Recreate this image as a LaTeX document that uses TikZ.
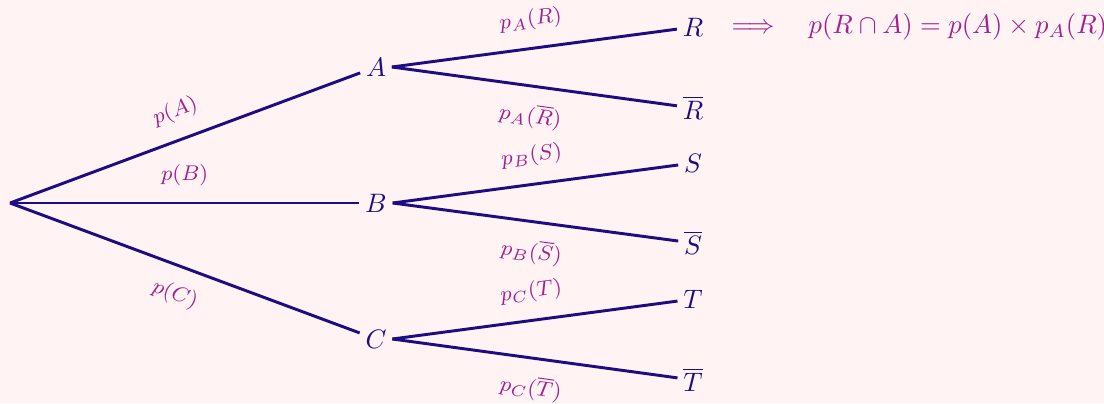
\documentclass[tikz,border=0pt]{standalone}
\usepackage{amsmath}
\usetikzlibrary{positioning}
\definecolor{TreeBg}{HTML}{FFF3F3}
\definecolor{TreeInk}{HTML}{1C0E82}
\definecolor{TreeProb}{HTML}{A0208E}
\tikzset{
  event/.style={text=TreeInk,inner sep=2pt},
  branch/.style={TreeInk,line width=1.1pt},
  prob/.style={text=TreeProb,font=\footnotesize,inner sep=1pt,sloped,midway},
  rule/.style={text=TreeProb,inner sep=0pt},
}

\begin{document}
\begin{tikzpicture}[x=.375pt,y=-.375pt]
    \fill[TreeBg] (0,0) rectangle (1104,403);
    \useasboundingbox (0,0) rectangle (1104,403);

    % first level
    \coordinate (root) at (10,203);
    \node[event] (A) at (376,67) {$A$};
    \node[event] (B) at (376,203) {$B$};
    \node[event] (C) at (376,339) {$C$};

    % second level
    \node[event] (R) at (693,27) {$R$};
    \node[event] (Rb) at (693,108) {$\overline{R}$};
    \node[event] (S) at (693,163) {$S$};
    \node[event] (Sb) at (693,243) {$\overline{S}$};
    \node[event] (T) at (693,299) {$T$};
    \node[event] (Tb) at (693,380) {$\overline{T}$};

    \draw[branch] (root) -- (A) node[prob,above=5pt] {$p(A)$};
    \draw[branch] (root) -- (B) node[prob,above=5pt] {$p(B)$};
    \draw[branch] (root) -- (C) node[prob,below=5pt] {$p(C)$};

    \draw[branch] (A.east) -- (R) node[prob,above=5pt] {$p_A(R)$};
    \draw[branch] (A.east) -- (Rb) node[prob,below=5pt] {$p_A(\overline{R})$};
    \draw[branch] (B.east) -- (S) node[prob,above=5pt] {$p_B(S)$};
    \draw[branch] (B.east) -- (Sb) node[prob,below=5pt] {$p_B(\overline{S})$};
    \draw[branch] (C.east) -- (T) node[prob,above=5pt] {$p_C(T)$};
    \draw[branch] (C.east) -- (Tb) node[prob,below=5pt] {$p_C(\overline{T})$};

    \node[rule,anchor=west] (formula) at (731,27)
      {$\Longrightarrow\quad p(R\cap A)=p(A)\times p_A(R)$};
\end{tikzpicture}
\end{document}
